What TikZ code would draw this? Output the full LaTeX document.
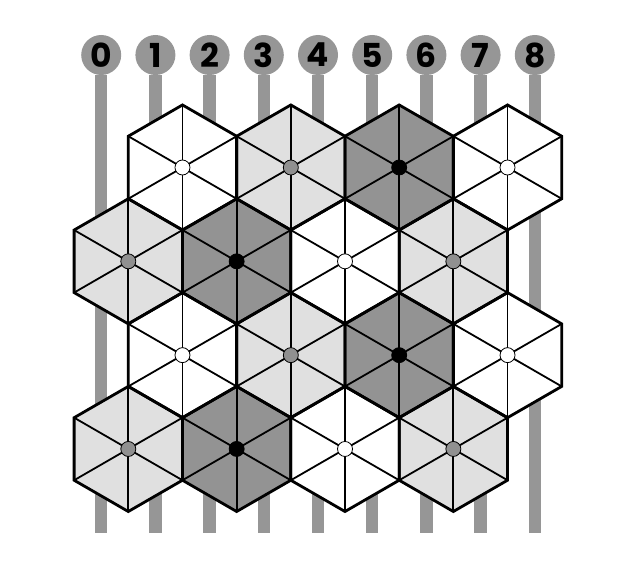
\documentclass[tikz,border=0pt]{standalone}
\usepackage{fontspec}
\usepackage{tikz}
\newfontfamily\wirefont{Poppins}
\definecolor{wiregray}{HTML}{969696}
\definecolor{lightcell}{HTML}{E0E0E0}
\definecolor{darkcell}{HTML}{939393}
\definecolor{dotgray}{HTML}{909090}

\begin{document}
\begin{tikzpicture}[x=1pt,y=-1pt,
    hexedge/.style={line width=2.8pt,line join=miter},
    spoke/.style={line width=1.8pt},
    wire/.style={line width=12.5pt,draw=wiregray},
    wirelabel/.style={circle,fill=wiregray,minimum size=40pt,inner sep=0pt,
      font=\wirefont\bfseries\fontsize{33}{33}\selectfont}]
  \useasboundingbox (0,0) rectangle (629,578);
  \def\R{62.55}
  % ---------------- Wires ----------------
  \foreach \i in {0,...,8}{
    \pgfmathsetmacro\x{101.2+54.2*\i}
    \node[wirelabel] (w\i) at (\x,55) {\i};
    \coordinate (b\i) at (\x,533);
    \draw[wire] (w\i) -- (b\i);
  }
  % ---------------- Hex cells: fill and spokes ----------------
  \foreach \r/\c/\fillc/\dotc in {
      0/0/white/white, 0/1/lightcell/dotgray, 0/2/darkcell/black, 0/3/white/white,
      1/0/lightcell/dotgray, 1/1/darkcell/black, 1/2/white/white, 1/3/lightcell/dotgray,
      2/0/white/white, 2/1/lightcell/dotgray, 2/2/darkcell/black, 2/3/white/white,
      3/0/lightcell/dotgray, 3/1/darkcell/black, 3/2/white/white, 3/3/lightcell/dotgray}{
    \pgfmathsetmacro\x{128.3+54.175*(1-mod(\r,2))+108.35*\c}
    \pgfmathsetmacro\y{167.5+93.82*\r}
    \fill[\fillc] (\x,\y) +(30:\R) -- +(90:\R) -- +(150:\R) -- +(210:\R)
      -- +(270:\R) -- +(330:\R) -- cycle;
    \foreach \a in {30,90,...,330}
      \draw[spoke] (\x,\y) -- +(\a:\R);
  }
  % ---------------- Hex cells: outlines and centre dots ----------------
  \foreach \r/\c/\fillc/\dotc in {
      0/0/white/white, 0/1/lightcell/dotgray, 0/2/darkcell/black, 0/3/white/white,
      1/0/lightcell/dotgray, 1/1/darkcell/black, 1/2/white/white, 1/3/lightcell/dotgray,
      2/0/white/white, 2/1/lightcell/dotgray, 2/2/darkcell/black, 2/3/white/white,
      3/0/lightcell/dotgray, 3/1/darkcell/black, 3/2/white/white, 3/3/lightcell/dotgray}{
    \pgfmathsetmacro\x{128.3+54.175*(1-mod(\r,2))+108.35*\c}
    \pgfmathsetmacro\y{167.5+93.82*\r}
    \draw[hexedge] (\x,\y) +(30:\R) -- +(90:\R) -- +(150:\R) -- +(210:\R)
      -- +(270:\R) -- +(330:\R) -- cycle;
    \filldraw[fill=\dotc,line width=0.8pt] (\x,\y) circle[radius=7.5];
  }
\end{tikzpicture}
\end{document}
